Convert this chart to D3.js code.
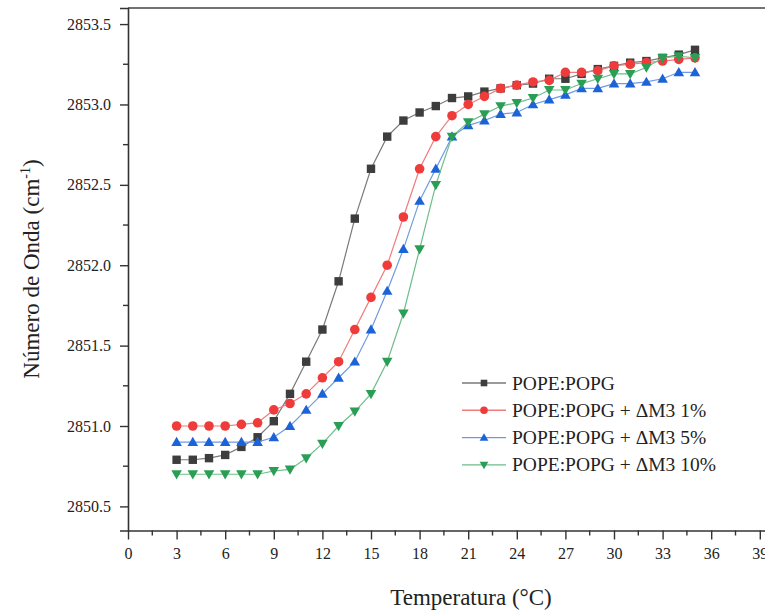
<!DOCTYPE html>
<html>
<head>
<meta charset="utf-8">
<script src="https://cdn.jsdelivr.net/npm/d3@7"></script>
<style>
  html, body { margin: 0; padding: 0; background: #fff; }
  svg { display: block; font-family: "Liberation Serif", "Times New Roman", serif; }
</style>
</head>
<body>
<svg id="chart" width="765" height="611"></svg>
<script>
const temperatura = [3,4,5,6,7,8,9,10,11,12,13,14,15,16,17,18,19,20,21,22,23,24,25,26,27,28,29,30,31,32,33,34,35];
const popePopg = [2850.79,2850.79,2850.80,2850.82,2850.87,2850.93,2851.03,2851.20,2851.40,2851.60,2851.90,2852.29,2852.60,2852.80,2852.90,2852.95,2852.99,2853.04,2853.05,2853.08,2853.10,2853.12,2853.13,2853.16,2853.16,2853.19,2853.22,2853.24,2853.26,2853.27,2853.29,2853.31,2853.34];
const dm3_1 = [2851.00,2851.00,2851.00,2851.00,2851.01,2851.02,2851.10,2851.14,2851.20,2851.30,2851.40,2851.60,2851.80,2852.00,2852.30,2852.60,2852.80,2852.93,2853.00,2853.05,2853.10,2853.12,2853.14,2853.15,2853.20,2853.20,2853.21,2853.24,2853.25,2853.26,2853.27,2853.28,2853.29];
const dm3_5 = [2850.90,2850.90,2850.90,2850.90,2850.90,2850.90,2850.93,2851.00,2851.10,2851.20,2851.30,2851.40,2851.60,2851.84,2852.10,2852.40,2852.60,2852.80,2852.87,2852.90,2852.94,2852.95,2853.00,2853.03,2853.06,2853.10,2853.10,2853.13,2853.13,2853.14,2853.16,2853.20,2853.20];
const dm3_10 = [2850.70,2850.70,2850.70,2850.70,2850.70,2850.70,2850.72,2850.73,2850.80,2850.89,2851.00,2851.09,2851.20,2851.40,2851.70,2852.10,2852.50,2852.80,2852.89,2852.94,2852.99,2853.01,2853.04,2853.09,2853.09,2853.13,2853.16,2853.19,2853.19,2853.23,2853.29,2853.30,2853.29];

const seriesNames = ["POPE:POPG", "POPE:POPG + \u0394M3 1%", "POPE:POPG + \u0394M3 5%", "POPE:POPG + \u0394M3 10%"];
const seriesValues = [popePopg, dm3_1, dm3_5, dm3_10];
const xTicks = [0,3,6,9,12,15,18,21,24,27,30,33,36,39];
const yTicks = [2850.5,2851.0,2851.5,2852.0,2852.5,2853.0,2853.5];

const styles = [
  {marker: "square",   fill: "#3d3d3d", line: "#7a7a7a"},
  {marker: "circle",   fill: "#f03b3b", line: "#f07c7c"},
  {marker: "triangle", fill: "#1d63d8", line: "#6f9ae2"},
  {marker: "triangleDown", fill: "#2a9e55", line: "#6fbd8c"}
];

(function draw() {
const svg = d3.select("#chart");
const pLeft = 128, pTop = 8, pBottom = 530.5, pRight = 776;
const x = d3.scaleLinear().domain([0, 40]).range([pLeft, pRight]);
const y = d3.scaleLinear().domain([2850.35, 2853.6]).range([pBottom, pTop]);

// frame
svg.append("line").attr("x1", pLeft).attr("x2", 765).attr("y1", pTop).attr("y2", pTop)
  .attr("stroke", "#444").attr("stroke-width", 1.6);

// axes
const xAxis = d3.axisBottom(x).tickValues(xTicks).tickFormat(d3.format("d")).tickSize(9).tickPadding(8);
const gx = svg.append("g").attr("transform", `translate(0,${pBottom})`).call(xAxis);
const xMinor = xTicks.map(d => d + 1.5);
gx.selectAll(".minor").data(xMinor).enter().append("line").attr("class", "minor")
  .attr("x1", d => x(d)).attr("x2", d => x(d)).attr("y1", 0).attr("y2", 5).attr("stroke", "#333").attr("stroke-width", 1.4);

const yAxis = d3.axisLeft(y).tickValues(yTicks).tickFormat(d3.format(".1f")).tickSize(8).tickPadding(9);
const gy = svg.append("g").attr("transform", `translate(${pLeft},0)`).call(yAxis);
const yMinor = yTicks.slice(0, -1).map(d => d + 0.25);
gy.selectAll(".minor").data(yMinor).enter().append("line").attr("class", "minor")
  .attr("y1", d => y(d)).attr("y2", d => y(d)).attr("x1", 0).attr("x2", -5).attr("stroke", "#333").attr("stroke-width", 1.4);

[gx, gy].forEach(g => {
  g.select(".domain").attr("stroke", "#333").attr("stroke-width", 1.6);
  g.selectAll(".tick line").attr("stroke", "#333").attr("stroke-width", 1.4);
  g.selectAll(".tick text").attr("font-family", "Liberation Serif").attr("font-size", 16).attr("fill", "#222");
});
gx.select(".domain").attr("d", `M${pLeft},0.5H765`);

function markerPath(type, s) {
  if (type === "square") return `M${-s},${-s}H${s}V${s}H${-s}Z`;
  if (type === "circle") return d3.symbol(d3.symbolCircle, Math.PI * s * s)();
  if (type === "triangle") return `M0,${-s*1.15}L${s*1.15},${s*0.85}L${-s*1.15},${s*0.85}Z`;
  return `M0,${s*1.15}L${s*1.15},${-s*0.85}L${-s*1.15},${-s*0.85}Z`;
}

const line = d3.line().x(d => x(d[0])).y(d => y(d[1]));
seriesValues.forEach((vals, i) => {
  const pts = temperatura.map((t, j) => [t, vals[j]]);
  const st = styles[i];
  const g = svg.append("g");
  g.append("path").attr("d", line(pts)).attr("fill", "none").attr("stroke", st.line).attr("stroke-width", 1.2);
  const size = st.marker === "square" ? 4.2 : (st.marker === "circle" ? 4.8 : 4.6);
  g.selectAll("path.m").data(pts).enter().append("path").attr("class", "m")
    .attr("transform", d => `translate(${x(d[0])},${y(d[1])})`)
    .attr("d", markerPath(st.marker, size)).attr("fill", st.fill);
});

// legend
const legX = 462, legY0 = 383, legDy = 27.3;
seriesNames.forEach((name, i) => {
  const st = styles[i];
  const ly = legY0 + i * legDy;
  svg.append("line").attr("x1", legX).attr("x2", legX + 44).attr("y1", ly).attr("y2", ly)
    .attr("stroke", st.line).attr("stroke-width", 1.4);
  svg.append("path").attr("transform", `translate(${legX + 22},${ly})`)
    .attr("d", markerPath(st.marker, st.marker === "square" ? 3.3 : 3.8)).attr("fill", st.fill);
  svg.append("text").attr("x", legX + 50).attr("y", ly + 6.5)
    .attr("font-size", 19.5).attr("fill", "#222").text(name);
});

// axis titles
svg.append("text").attr("x", 471).attr("y", 605).attr("text-anchor", "middle")
  .attr("font-size", 23).attr("fill", "#222").text("Temperatura (\u00B0C)");

const yt = svg.append("text").attr("transform", "translate(39,269) rotate(-90)")
  .attr("text-anchor", "middle").attr("font-size", 23).attr("fill", "#222");
yt.append("tspan").text("Número de Onda (cm");
yt.append("tspan").attr("font-size", 14).attr("dy", -9).text("-1");
yt.append("tspan").attr("dy", 9).text(")");
})();
</script>
</body>
</html>
